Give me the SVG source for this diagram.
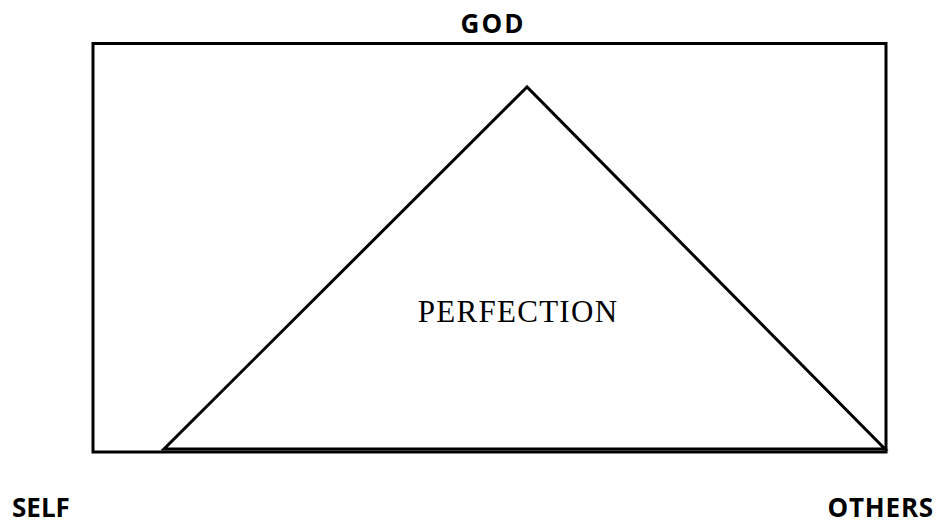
<svg xmlns="http://www.w3.org/2000/svg" width="937" height="525" viewBox="0 0 937 525">
<style>
.lbl{font-family:"Open Sans","Liberation Sans",sans-serif;font-weight:bold;font-size:26px;fill:#000}
.ser{font-family:"Liberation Serif","DejaVu Serif",serif;font-size:31px;letter-spacing:1.3px;fill:#000}
.ln{fill:none;stroke:#000;stroke-width:3}
</style>
<rect width="937" height="525" fill="#fff"/>
<g id="frame"><rect class="ln" x="93" y="43.5" width="793" height="408.5"/></g>
<g id="pyramid">
<polygon class="ln" points="527,87 164,449 885,449" stroke-linejoin="miter"/>
<text class="ser" x="518" y="322" text-anchor="middle">PERFECTION</text>
</g>
<g id="god"><text class="lbl" x="493" y="33" text-anchor="middle" letter-spacing="2">GOD</text></g>
<g id="self"><text class="lbl" x="12" y="517">SELF</text></g>
<g id="others"><text class="lbl" x="934" y="517" text-anchor="end" letter-spacing="0.8">OTHERS</text></g>
</svg>
